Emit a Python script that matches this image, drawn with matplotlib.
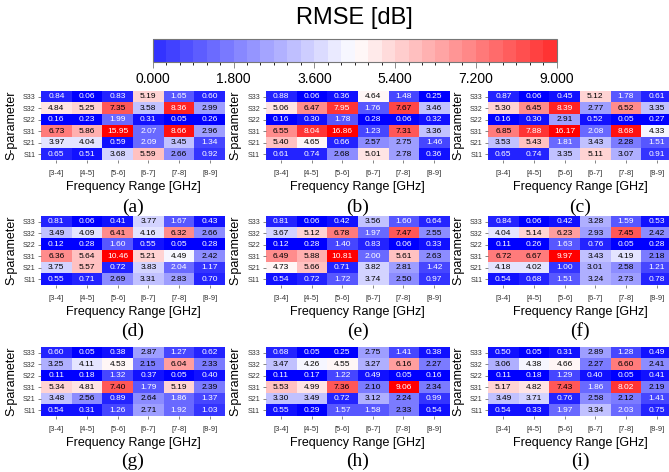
import numpy as np
import matplotlib
matplotlib.use("Agg")
import matplotlib.pyplot as plt
from matplotlib.colors import BoundaryNorm
from matplotlib.cm import ScalarMappable

plt.rcParams['font.family'] = ['Liberation Sans', 'DejaVu Sans']

##---------- data
s_params = ["S33", "S32", "S22", "S31", "S21", "S11"]
freq_bins = ["[3-4]", "[4-5]", "[5-6]", "[6-7]", "[7-8]", "[8-9]"]
panel_tags = ["(a)", "(b)", "(c)", "(d)", "(e)", "(f)", "(g)", "(h)", "(i)"]

rmse_a = [[0.84, 0.06, 0.83, 5.19, 1.65, 0.60],
          [4.84, 5.25, 7.35, 3.58, 8.36, 2.99],
          [0.16, 0.23, 1.99, 0.31, 0.05, 0.26],
          [6.73, 5.86, 15.95, 2.07, 8.66, 2.96],
          [3.97, 4.04, 0.59, 2.09, 3.45, 1.34],
          [0.65, 0.51, 3.68, 5.59, 2.66, 0.92]]
rmse_b = [[0.88, 0.06, 0.36, 4.64, 1.48, 0.25],
          [5.06, 6.47, 7.95, 1.76, 7.67, 3.46],
          [0.16, 0.30, 1.78, 0.28, 0.06, 0.32],
          [6.55, 8.04, 16.86, 1.23, 7.31, 3.36],
          [5.40, 4.65, 0.66, 2.57, 2.75, 1.46],
          [0.61, 0.74, 2.68, 5.01, 2.78, 0.36]]
rmse_c = [[0.87, 0.06, 0.45, 5.12, 1.78, 0.61],
          [5.30, 6.45, 8.39, 2.77, 6.52, 3.35],
          [0.16, 0.30, 2.91, 0.52, 0.05, 0.27],
          [6.85, 7.88, 16.17, 2.08, 8.68, 4.33],
          [3.53, 5.43, 1.81, 3.43, 2.28, 1.51],
          [0.65, 0.74, 3.35, 5.11, 3.07, 0.91]]
rmse_d = [[0.81, 0.06, 0.41, 3.77, 1.67, 0.43],
          [3.49, 4.09, 6.41, 4.16, 6.32, 2.66],
          [0.12, 0.28, 1.60, 0.55, 0.05, 0.28],
          [6.36, 5.64, 10.46, 5.21, 4.49, 2.42],
          [3.75, 5.57, 0.72, 3.83, 2.04, 1.17],
          [0.55, 0.71, 2.69, 3.31, 2.83, 0.70]]
rmse_e = [[0.81, 0.06, 0.42, 3.56, 1.60, 0.64],
          [3.67, 5.12, 6.78, 1.97, 7.47, 2.55],
          [0.12, 0.28, 1.40, 0.83, 0.06, 0.33],
          [6.49, 5.88, 10.81, 2.00, 5.61, 2.63],
          [4.73, 5.66, 0.71, 3.82, 2.81, 1.42],
          [0.54, 0.72, 1.72, 3.74, 2.50, 0.97]]
rmse_f = [[0.84, 0.06, 0.42, 3.28, 1.59, 0.53],
          [4.04, 5.14, 6.23, 2.93, 7.45, 2.42],
          [0.11, 0.26, 1.63, 0.76, 0.05, 0.28],
          [6.72, 6.67, 9.97, 3.43, 4.19, 2.18],
          [4.18, 4.02, 1.00, 3.01, 2.58, 1.21],
          [0.54, 0.68, 1.51, 3.24, 2.73, 0.78]]
rmse_g = [[0.60, 0.05, 0.38, 2.87, 1.27, 0.62],
          [3.25, 4.11, 4.53, 2.15, 6.04, 2.33],
          [0.11, 0.18, 1.32, 0.37, 0.05, 0.40],
          [5.34, 4.81, 7.40, 1.79, 5.19, 2.39],
          [3.48, 2.56, 0.89, 2.64, 1.86, 1.37],
          [0.54, 0.31, 1.26, 2.71, 1.92, 1.03]]
rmse_h = [[0.68, 0.05, 0.25, 2.75, 1.41, 0.38],
          [3.47, 4.26, 4.55, 3.27, 6.16, 2.27],
          [0.11, 0.17, 1.22, 0.49, 0.05, 0.16],
          [5.53, 4.99, 7.36, 2.10, 9.06, 2.34],
          [3.30, 3.49, 0.72, 3.12, 2.24, 0.99],
          [0.55, 0.29, 1.57, 1.58, 2.33, 0.54]]
rmse_i = [[0.50, 0.05, 0.31, 2.89, 1.28, 0.49],
          [3.06, 4.38, 4.66, 2.27, 6.60, 2.41],
          [0.11, 0.18, 1.29, 0.40, 0.05, 0.41],
          [5.17, 4.82, 7.43, 1.86, 8.02, 2.19],
          [3.49, 3.71, 0.76, 2.58, 2.12, 1.41],
          [0.54, 0.33, 1.97, 3.34, 2.03, 0.75]]

cbar_ticks = [0.0, 1.8, 3.6, 5.4, 7.2, 9.0]
##---------- end of data

panels = [rmse_a, rmse_b, rmse_c, rmse_d, rmse_e, rmse_f, rmse_g, rmse_h, rmse_i]

W, H = 669, 472
fig = plt.figure(figsize=(W / 100, H / 100), dpi=100)

def px_box(left, top, w, h):
    return [left / W, 1 - (top + h) / H, w / W, h / H]

# discrete blue-white-red map, 30 steps of 0.3 dB
bounds = np.linspace(0, 9, 31)
cmap = plt.get_cmap('bwr').resampled(30)
norm = BoundaryNorm(bounds, cmap.N, clip=True)

lefts = [41, 265.5, 488]
tops = [91, 216, 347]
hw, hh = 184, 69
tag_off = [47, 46, 45]

for k, vals in enumerate(panels):
    r, c = divmod(k, 3)
    ax = fig.add_axes(px_box(lefts[c], tops[r], hw, hh))
    z = np.array(vals)
    ax.imshow(np.clip(z, 0, 8.99), cmap=cmap, norm=norm, aspect='auto',
              interpolation='nearest')
    for i in range(z.shape[0]):
        for j in range(z.shape[1]):
            v = z[i, j]
            col = 'white' if (v < 2.1 or v >= 7.8) else 'black'
            ax.text(j, i, "%.2f" % v, ha='center', va='center',
                    fontsize=6, color=col)
    ax.set_xticks(range(len(freq_bins)))
    ax.set_xticklabels(freq_bins, fontsize=5.5, color='#333333')
    ax.set_yticks(range(len(s_params)))
    ax.set_yticklabels(s_params, fontsize=5, color='#333333')
    ax.tick_params(length=2, width=0.5, pad=2, color='#555555')
    ax.tick_params(axis='x', pad=5)
    for sp in ax.spines.values():
        sp.set_visible(False)
    ax.set_xlabel("Frequency Range [GHz]", fontsize=9, labelpad=3)
    ax.set_ylabel("S-parameter", fontsize=9, labelpad=4)
    fig.text((lefts[c] + hw / 2) / W, 1 - (tops[r] + hh + tag_off[r]) / H,
             panel_tags[k], ha='center', va='center', fontsize=14,
             family='Liberation Serif')

# shared colour bar at the top
cax = fig.add_axes(px_box(152.7, 39.3, 404, 23))
sm = ScalarMappable(norm=norm, cmap=cmap)
cb = fig.colorbar(sm, cax=cax, orientation='horizontal', ticks=cbar_ticks,
                  format='%.3f')
cb.solids.set_alpha(0.8)
cb.outline.set_edgecolor('#777777')
cb.outline.set_linewidth(0.8)
cax.tick_params(labelsize=10, length=4, width=0.6, color='#777777', pad=3)
fig.text(354.7 / W, 1 - 18 / H, "RMSE [dB]", ha='center', va='center',
         fontsize=17)

fig.savefig("out.png", dpi=100)
